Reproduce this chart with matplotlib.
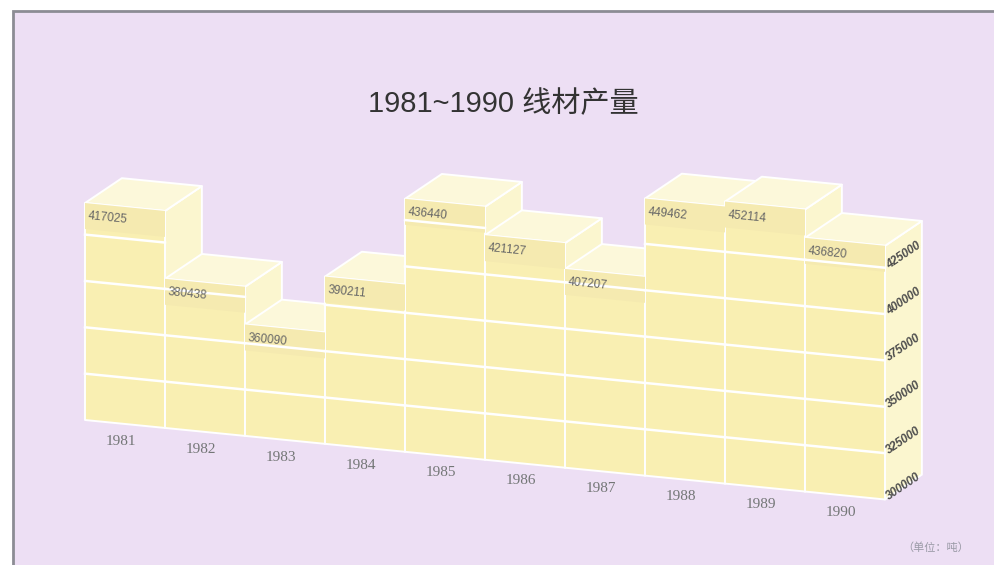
import numpy as np
import matplotlib
matplotlib.use("Agg")
import matplotlib.pyplot as plt
from matplotlib.patches import Rectangle
from mpl_toolkits.mplot3d import proj3d
from mpl_toolkits.mplot3d.art3d import Poly3DCollection

# data
years = ["1981", "1982", "1983", "1984", "1985", "1986", "1987", "1988", "1989", "1990"]
output = [417025, 380438, 360090, 390211, 436440, 421127, 407207, 449462, 452114, 436820]
ticks = [300000, 325000, 350000, 375000, 400000, 425000]
title = "1981~1990 线材产量"
unit = "（单位：吨）"

BASE = ticks[0]
STEP = ticks[1] - ticks[0]
ZTOP = 155000            # z range above BASE
DEPTH = 1.2              # bar depth, in bar widths
UNIT_H = 0.56            # box height of one STEP, in bar widths

BG = "#eddff4"
FRONT = "#f9efb2"
TOP = "#fcf8da"
SIDE = "#fbf6cf"
BAND = "#f5eab0"
CLEAR = (1, 1, 1, 0)

W, H = 995, 565
plt.rcParams["font.family"] = ["Noto Sans CJK SC", "DejaVu Sans"]

fig = plt.figure(figsize=(W / 100, H / 100), dpi=100)
fig.patch.set_facecolor("white")
fig.add_artist(Rectangle((13 / W, -0.05), 1.1, (H - 11) / H + 0.05, transform=fig.transFigure,
                         fc=BG, ec="#8c8c94", lw=2.0, zorder=-10))

AW, AH = 1.4, 2.4
ax = fig.add_axes([0.5 - AW / 2, 0.5 - AH / 2, AW, AH], projection="3d",
                  proj_type="ortho", computed_zorder=False)
ax.set_facecolor("none")
ax.set_axis_off()
ax.set_xticks([]); ax.set_yticks([]); ax.set_zticks([])
ax.view_init(elev=15, azim=-69)
n = len(output)
ax.set_xlim(0, n); ax.set_ylim(0, DEPTH); ax.set_zlim(0, ZTOP)
box = (n, DEPTH, ZTOP / STEP * UNIT_H)
ax.set_box_aspect(box, zoom=1.0)

x = np.arange(n)
h = np.array(output) - BASE
# face order in bar3d: bottom, top, front, back, left, right
fcs, ecs = [], []
for i in range(n):
    fcs += [CLEAR, TOP, FRONT, CLEAR, CLEAR, SIDE]
    ecs += [CLEAR, "white", "white", CLEAR, CLEAR, "white"]
ax.bar3d(x, np.zeros(n), np.zeros(n), 1, DEPTH, h, color=fcs, edgecolor=ecs,
         linewidth=1.4, shade=False, zorder=1)

# slightly darker label band at the top of each front face
band = 14000
quads = [[(i, 0, v - band), (i + 1, 0, v - band), (i + 1, 0, v), (i, 0, v)] for i, v in zip(x, h)]
ax.add_collection3d(Poly3DCollection(quads, facecolor=BAND, edgecolor="none", zorder=2))

# white grid lines on the front faces
for i, v in zip(x, h):
    for t in ticks[1:]:
        if t - BASE < v - 3000:
            ax.plot([i, i + 1], [0, 0], [t - BASE] * 2, color="white", lw=1.8, zorder=3)


def screen(px, py, pz):
    xs, ys, _ = proj3d.proj_transform(px, py, pz, ax.get_proj())
    return ax.transData.transform((xs, ys))


# fit the row of bars: bottom front edge from (85, 420) to (885, 500) in image pixels
fig.canvas.draw()
p0, p1 = screen(0, 0, 0), screen(n, 0, 0)
ax.set_box_aspect(box, zoom=800 / (p1[0] - p0[0]))
fig.canvas.draw()
p0 = screen(0, 0, 0)
dx, dy = (85 - p0[0]) / W, ((H - 420) - p0[1]) / H
ax.set_position([0.5 - AW / 2 + dx, 0.5 - AH / 2 + dy, AW, AH])
fig.canvas.draw()

to_fig = fig.transFigure.inverted()


def label3d(px, py, pz, s, along=None, **kw):
    """Place a flat text at a projected 3D point, turned along a 3D direction."""
    a = screen(px, py, pz)
    rot = 0
    if along is not None:
        b = screen(px + along[0], py + along[1], pz + along[2])
        rot = np.degrees(np.arctan2(b[1] - a[1], b[0] - a[0]))
    fx, fy = to_fig.transform(a)
    fig.text(fx, fy, s, rotation=rot, rotation_mode="anchor", **kw)


# value labels
for i, v, val in zip(x, h, output):
    label3d(i + 0.04, 0, v - band / 2, str(val), along=(1, 0, 0), ha="left", va="center",
            fontsize=8.5, color="#666666", family="Liberation Sans")

# year labels under the bars
for i, yr in zip(x, years):
    label3d(i + 0.45, 0, -9500, yr, ha="center", va="center", fontsize=11,
            color="#737676", family="Liberation Serif")

# scale labels on the right side face of the last bar
for t in ticks:
    label3d(n, DEPTH * 0.5, t - BASE, str(t), along=(0, 1, 0), ha="center", va="center",
            fontsize=8.5, fontweight="bold", fontstyle="italic", color="#4d4d4d",
            family="Liberation Sans")

fig.text(503 / W, 1 - 104 / H, title, ha="center", va="center", fontsize=21, color="#333333",
         family=["Liberation Sans", "Noto Sans CJK SC"])
fig.text(936 / W, 1 - 548 / H, unit, ha="center", va="center", fontsize=8, color="#9a9aa6")

fig.savefig("out.png", dpi=100, facecolor=fig.get_facecolor())
